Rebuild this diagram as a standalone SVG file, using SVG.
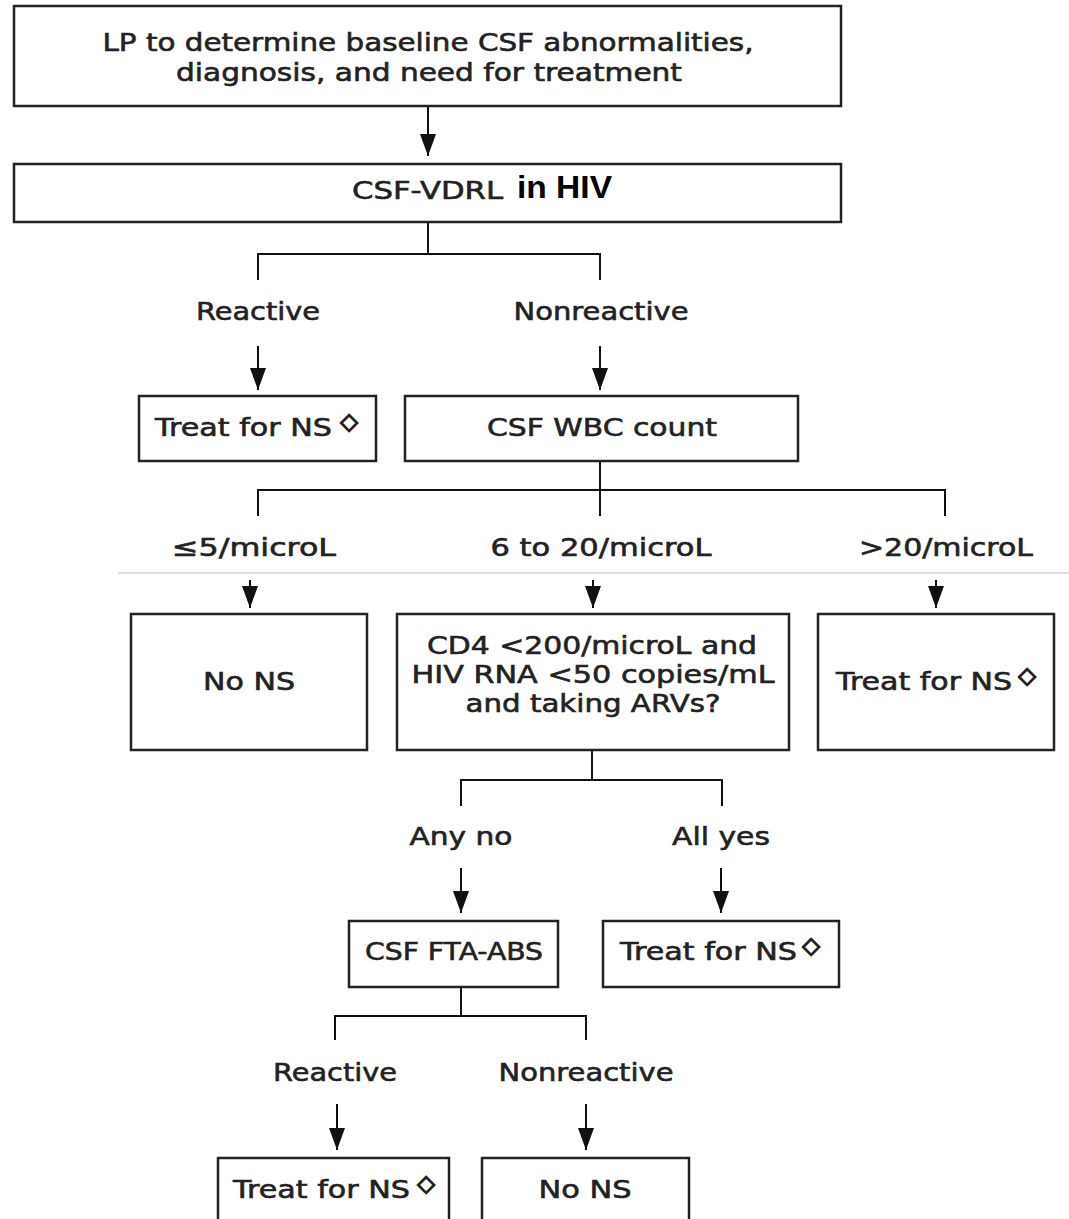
<svg xmlns="http://www.w3.org/2000/svg" width="1069" height="1219" viewBox="0 0 1069 1219">
<style>
.box{fill:#fff;stroke:#222;stroke-width:2.5}
.ln{fill:none;stroke:#111;stroke-width:2}
.t{font-family:"DejaVu Sans",Verdana,sans-serif;font-size:25px;fill:#222;stroke:#222;stroke-width:0.6;text-anchor:middle}
.s{text-anchor:start}
.d{font-family:"DejaVu Sans",sans-serif;font-size:23px;font-weight:bold;fill:#222;stroke:#222;stroke-width:1.4;text-anchor:middle}
.h{font-family:"Liberation Sans",Arial,sans-serif;font-size:31px;font-weight:bold;fill:#000}
</style>
<defs>
<marker id="ah" viewBox="0 0 22 16" refX="22" refY="8" markerWidth="22" markerHeight="16" markerUnits="userSpaceOnUse" orient="auto">
<path d="M0,0 L22,8 L0,16 z" fill="#111"/>
</marker>
</defs>
<rect x="0" y="0" width="1069" height="1219" fill="#fff"/>
<line x1="118" y1="573" x2="1069" y2="573" stroke="#dcdcdc" stroke-width="2"/>
<g id="connectors">
<line class="ln" x1="428" y1="106" x2="428" y2="156" marker-end="url(#ah)"/>
<path class="ln" d="M428,222 V254 M258,280 V254 H600 V280"/>
<line class="ln" x1="258" y1="346" x2="258" y2="390" marker-end="url(#ah)"/>
<line class="ln" x1="600" y1="346" x2="600" y2="390" marker-end="url(#ah)"/>
<path class="ln" d="M600,461 V516 M258,516 V490 H945 V516"/>
<line class="ln" x1="250" y1="580" x2="250" y2="608" marker-end="url(#ah)"/>
<line class="ln" x1="593" y1="580" x2="593" y2="608" marker-end="url(#ah)"/>
<line class="ln" x1="936" y1="580" x2="936" y2="608" marker-end="url(#ah)"/>
<path class="ln" d="M592,750 V780 M461,806 V780 H722 V806"/>
<line class="ln" x1="461" y1="868" x2="461" y2="913" marker-end="url(#ah)"/>
<line class="ln" x1="721" y1="868" x2="721" y2="913" marker-end="url(#ah)"/>
<path class="ln" d="M461,987 V1016 M335,1040 V1016 H586 V1040"/>
<line class="ln" x1="337" y1="1104" x2="337" y2="1150" marker-end="url(#ah)"/>
<line class="ln" x1="586" y1="1104" x2="586" y2="1150" marker-end="url(#ah)"/>
</g>
<g id="labels">
<text class="t" x="258" y="320" textLength="124" lengthAdjust="spacingAndGlyphs">Reactive</text>
<text class="t" x="601" y="320" textLength="175" lengthAdjust="spacingAndGlyphs">Nonreactive</text>
<text class="t" x="254" y="556" textLength="164" lengthAdjust="spacingAndGlyphs">≤5/microL</text>
<text class="t" x="601" y="556" textLength="221" lengthAdjust="spacingAndGlyphs">6 to 20/microL</text>
<text class="t" x="946" y="556" textLength="174" lengthAdjust="spacingAndGlyphs">&gt;20/microL</text>
<text class="t" x="461" y="845" textLength="103" lengthAdjust="spacingAndGlyphs">Any no</text>
<text class="t" x="721" y="845" textLength="98" lengthAdjust="spacingAndGlyphs">All yes</text>
<text class="t" x="335" y="1081" textLength="124" lengthAdjust="spacingAndGlyphs">Reactive</text>
<text class="t" x="586" y="1081" textLength="175" lengthAdjust="spacingAndGlyphs">Nonreactive</text>
</g>
<g id="n-lp">
<rect class="box" x="14" y="6" width="827" height="100"/>
<text class="t" x="428" y="51" textLength="651" lengthAdjust="spacingAndGlyphs">LP to determine baseline CSF abnormalities,</text>
<text class="t" x="429" y="81" textLength="506" lengthAdjust="spacingAndGlyphs">diagnosis, and need for treatment</text>
</g>
<g id="n-vdrl">
<rect class="box" x="14" y="164" width="827" height="58"/>
<text class="t s" x="352" y="199" textLength="151" lengthAdjust="spacingAndGlyphs">CSF-VDRL</text>
<text class="h" x="517" y="198" textLength="95" lengthAdjust="spacingAndGlyphs">in HIV</text>
</g>
<g id="n-treat1">
<rect class="box" x="139" y="396" width="237" height="65"/>
<text class="t s" x="155" y="436" textLength="177" lengthAdjust="spacingAndGlyphs">Treat for NS</text>
<text class="d" x="349" y="429">◇</text>
</g>
<g id="n-wbc">
<rect class="box" x="405" y="396" width="393" height="65"/>
<text class="t" x="602" y="436" textLength="230" lengthAdjust="spacingAndGlyphs">CSF WBC count</text>
</g>
<g id="n-nons1">
<rect class="box" x="131" y="614" width="236" height="136"/>
<text class="t" x="249" y="690" textLength="92" lengthAdjust="spacingAndGlyphs">No NS</text>
</g>
<g id="n-cd4">
<rect class="box" x="397" y="614" width="392" height="136"/>
<text class="t" x="592" y="654" textLength="330" lengthAdjust="spacingAndGlyphs">CD4 &lt;200/microL and</text>
<text class="t" x="593" y="683" textLength="363" lengthAdjust="spacingAndGlyphs">HIV RNA &lt;50 copies/mL</text>
<text class="t" x="593" y="712" textLength="255" lengthAdjust="spacingAndGlyphs">and taking ARVs?</text>
</g>
<g id="n-treat2">
<rect class="box" x="818" y="614" width="236" height="136"/>
<text class="t s" x="836" y="690" textLength="176" lengthAdjust="spacingAndGlyphs">Treat for NS</text>
<text class="d" x="1027" y="683">◇</text>
</g>
<g id="n-fta">
<rect class="box" x="349" y="921" width="209" height="66"/>
<text class="t" x="454" y="960" textLength="178" lengthAdjust="spacingAndGlyphs">CSF FTA-ABS</text>
</g>
<g id="n-treat3">
<rect class="box" x="603" y="921" width="236" height="66"/>
<text class="t s" x="620" y="960" textLength="177" lengthAdjust="spacingAndGlyphs">Treat for NS</text>
<text class="d" x="811" y="953">◇</text>
</g>
<g id="n-treat4">
<rect class="box" x="218" y="1158" width="231" height="80"/>
<text class="t s" x="233" y="1198" textLength="177" lengthAdjust="spacingAndGlyphs">Treat for NS</text>
<text class="d" x="426" y="1191">◇</text>
</g>
<g id="n-nons2">
<rect class="box" x="482" y="1158" width="207" height="80"/>
<text class="t" x="585" y="1198" textLength="93" lengthAdjust="spacingAndGlyphs">No NS</text>
</g>
</svg>
